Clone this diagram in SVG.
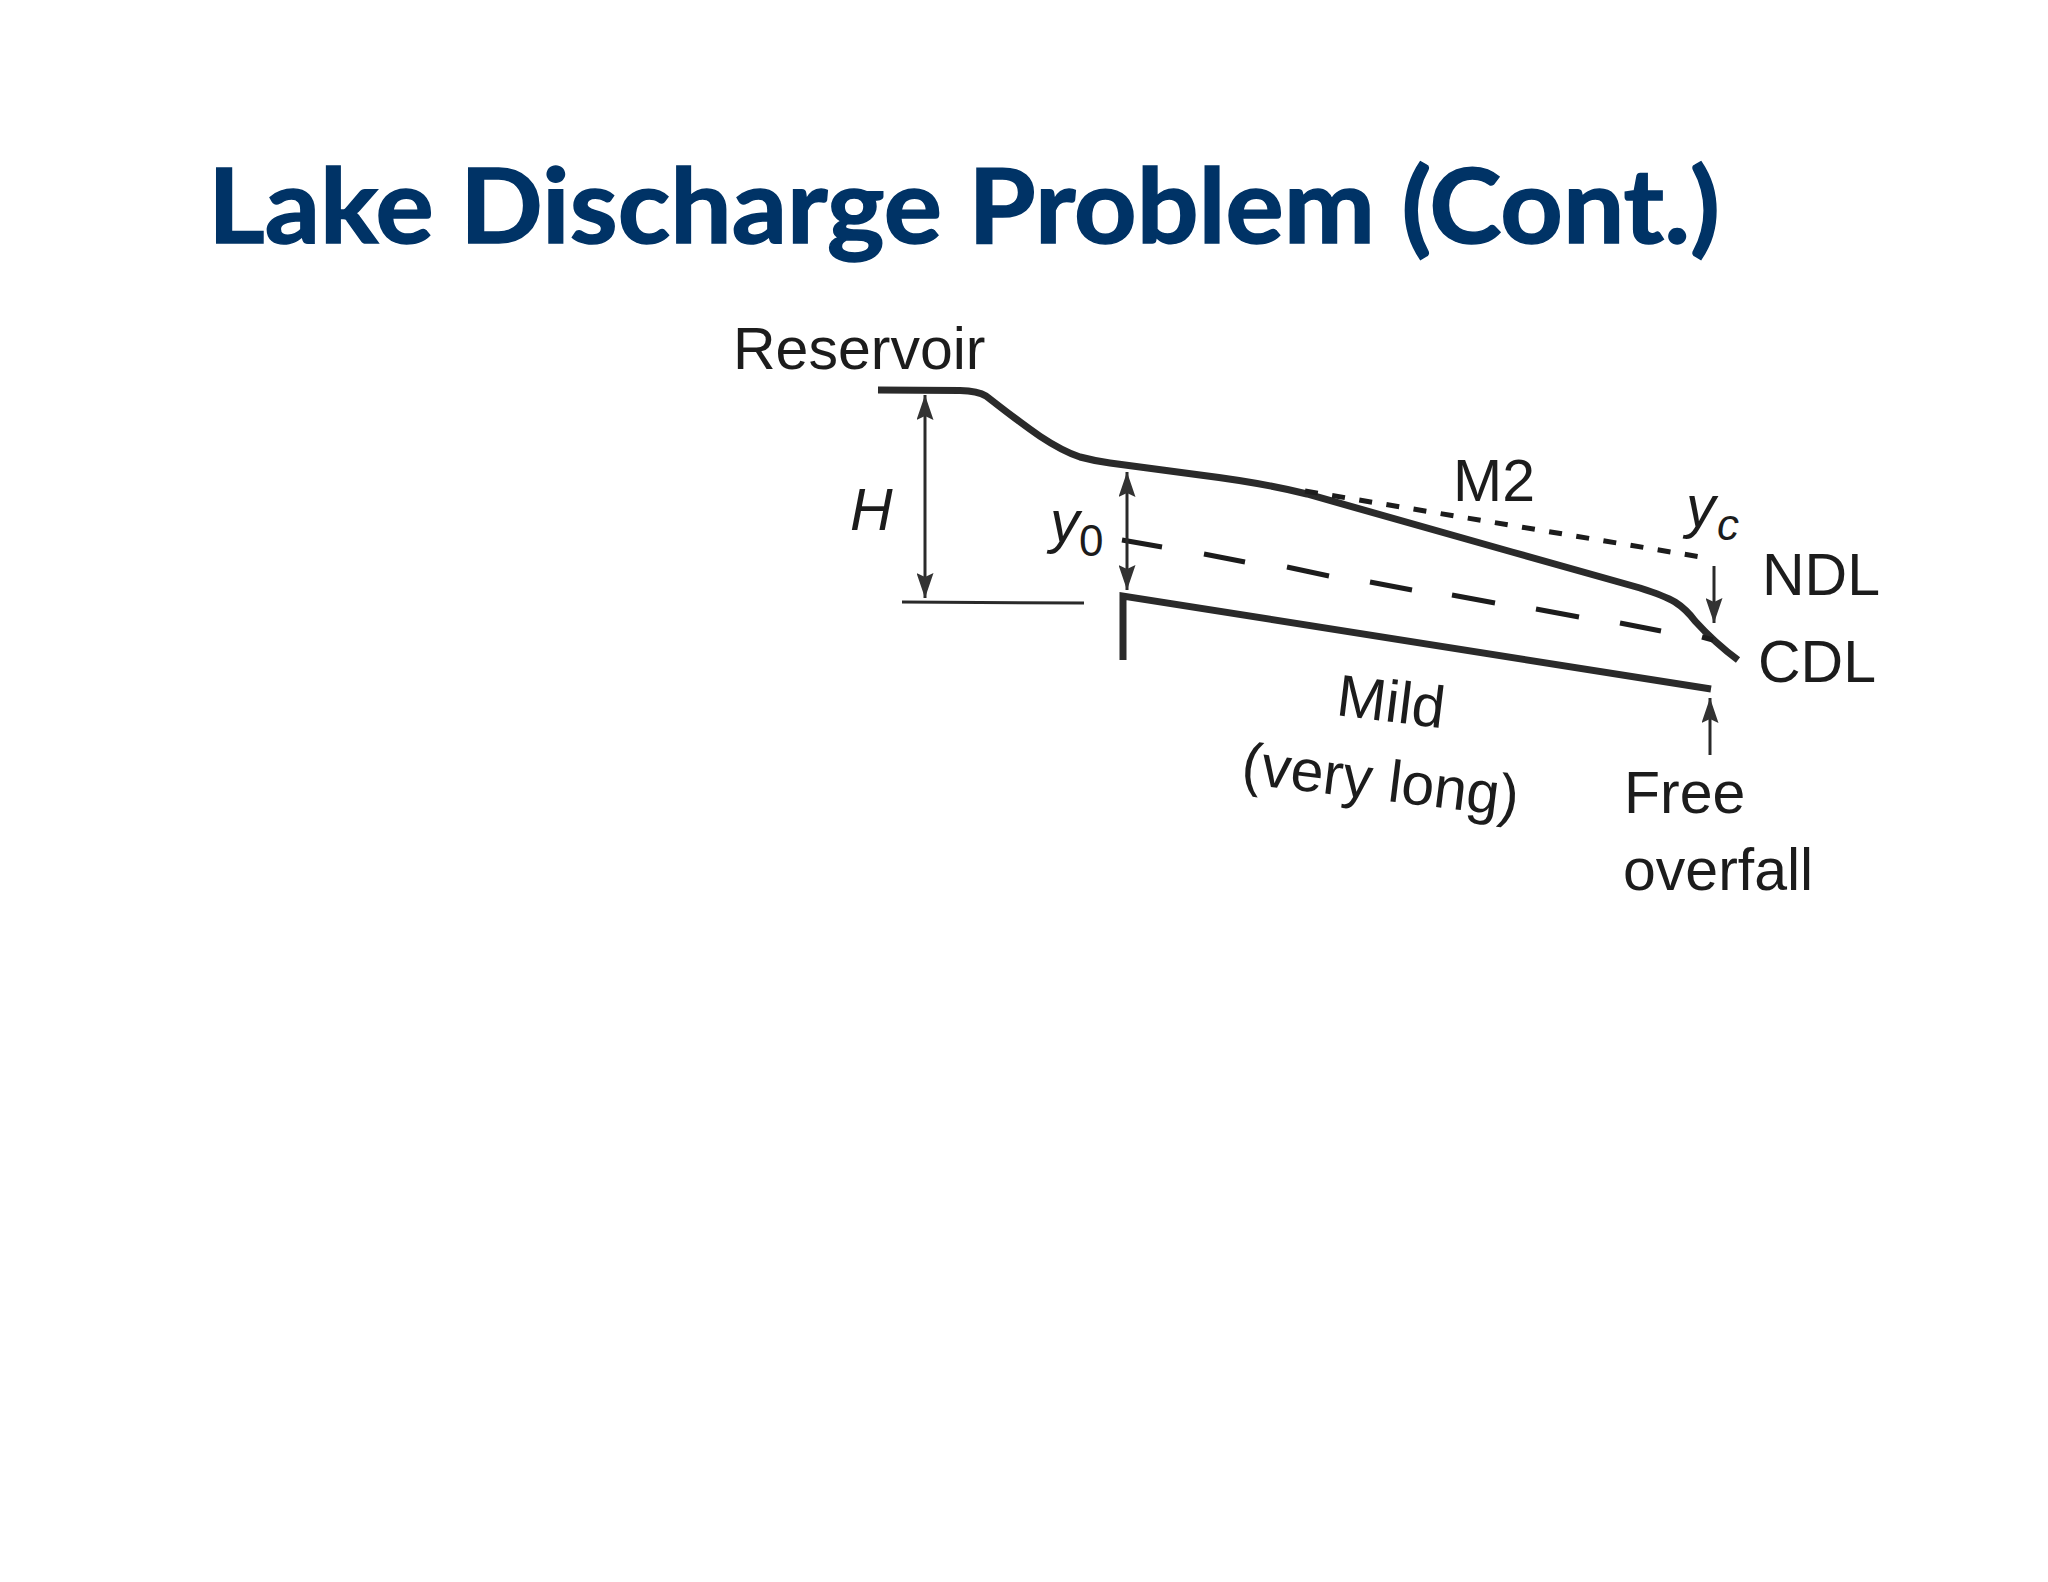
<svg xmlns="http://www.w3.org/2000/svg" width="2048" height="1582" viewBox="0 0 2048 1582">
<style>
.t{font-family:"Liberation Sans",Arial,sans-serif;font-size:59px;fill:#1c1c1c}
.i{font-style:italic}
.title{font-family:Lato,"Liberation Sans",sans-serif;font-weight:700;font-size:104px;fill:#003366;stroke:#003366;stroke-width:1.500}
.thick{fill:none;stroke:#2a2a2a;stroke-width:7}
.thin{fill:none;stroke:#2a2a2a;stroke-width:3}
.dash{fill:none;stroke:#1c1c1c;stroke-width:5}
</style>
<defs>
<marker id="ah" markerUnits="userSpaceOnUse" markerWidth="25" markerHeight="17" refX="25" refY="8.5" orient="auto" viewBox="0 0 25 17"><path d="M0 0L25 8.500L0 17L4 8.500Z" fill="#333"/></marker>
<marker id="as" markerUnits="userSpaceOnUse" markerWidth="25" markerHeight="17" refX="25" refY="8.5" orient="auto-start-reverse" viewBox="0 0 25 17"><path d="M0 0L25 8.500L0 17L4 8.500Z" fill="#333"/></marker>
</defs>
<rect width="2048" height="1582" fill="#fff"/>
<text id="title" class="title" x="208" y="243" textLength="1512" lengthAdjust="spacingAndGlyphs">Lake Discharge Problem (Cont.)</text>
<g id="connectors">
<path id="water-surface" class="thick" d="M878 390L960 390.500Q978 391 986 396C1020 422 1050 447 1080 457Q1095 461 1110 463L1200 475C1240 480 1275 486 1307 494L1512 552L1640 588Q1665 596 1675 602Q1686 609 1695 621Q1715 643 1738 660"/>
<path id="bed" class="thick" d="M1123 660V596L1711 689"/>
<path id="datum" class="thin" d="M902 602L1084 603"/>
<path id="cdl" class="dash" stroke-dasharray="13 14.500" d="M1305 491L1707 558"/>
<path id="ndl" class="dash" d="M1122 540L1162 547M1204 554L1245 562M1287 567L1329 576M1370 582L1412 590M1452 595L1495 603M1536 609L1579 617M1620 623L1661 631M1702 637L1713 640"/>
<path id="arrow-h" class="thin" marker-start="url(#as)" marker-end="url(#ah)" d="M925 395V598"/>
<path id="arrow-y0" class="thin" marker-start="url(#as)" marker-end="url(#ah)" d="M1127 472V590"/>
<path id="arrow-yc" class="thin" marker-end="url(#ah)" d="M1714 566V623"/>
<path id="arrow-overfall" class="thin" marker-end="url(#ah)" d="M1710 755V698"/>
</g>
<g id="label-reservoir"><text class="t" x="733" y="369">Reservoir</text></g>
<g id="label-h"><text class="t i" x="850" y="530">H</text></g>
<g id="label-y0"><text class="t i" x="1050" y="542">y</text><text class="t" style="font-size:44px" x="1079" y="556">0</text></g>
<g id="label-m2"><text class="t" x="1453" y="501">M2</text></g>
<g id="label-yc"><text class="t i" x="1686" y="527">y</text><text class="t i" style="font-size:44px" x="1717" y="540">c</text></g>
<g id="label-ndl"><text class="t" x="1762" y="595">NDL</text></g>
<g id="label-cdl"><text class="t" x="1758" y="682">CDL</text></g>
<g id="label-mild"><text class="t" transform="translate(1335 715) rotate(7)">Mild</text></g>
<g id="label-very-long"><text class="t" transform="translate(1240 783) rotate(7)">(very long)</text></g>
<g id="label-free"><text class="t" x="1624" y="813">Free</text></g>
<g id="label-overfall"><text class="t" x="1623" y="890">overfall</text></g>
</svg>
